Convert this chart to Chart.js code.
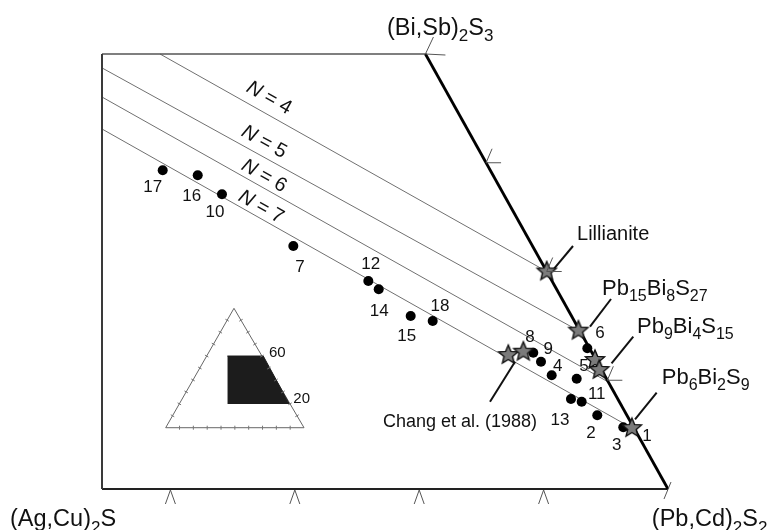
<!DOCTYPE html>
<html><head><meta charset="utf-8">
<script src="https://cdn.jsdelivr.net/npm/chart.js@4.4.1/dist/chart.umd.min.js"></script>
<style>html,body{margin:0;padding:0;background:#fff;}canvas{display:block;}</style>
</head><body>
<canvas id="c" width="780" height="530"></canvas>
<script>
// ---------------- data (diagram coordinates) ----------------
// frame: left edge at x=9, right corner (Pb,Cd)2S2 at x=100, top corner (Bi,Sb)2S3 at x=61
const frameLeftX = 9, frameRightX = 100, topCornerX = 61;
const bottomTicks = [20, 40, 60, 80];
const rightTicks = [0, 25, 50, 75, 100];

// analysed compositions (black dots)
const dotIds = ['17','16','10','7','12','14','15','18','8','9','4','5','6','13','11','2','3'];
const dotX = [18.76,24.39,28.29,39.76,51.82,53.49,58.63,62.17,78.34,79.58,81.30,85.32,87.03,84.40,86.12,88.63,92.81];
const dotY = [73.27,72.11,67.75,55.86,47.82,45.91,39.77,38.62,31.33,29.26,26.14,25.36,32.34,20.69,20.07,16.94,14.18];

// number labels
const numLabels = ['17','16','10','7','12','14','15','18','8','9','4','5','6','13','11','2','3','1'];
const numLabelX = [17.15,23.42,27.17,40.83,52.2,53.58,57.99,63.34,77.81,80.76,82.27,86.49,89.07,82.64,88.54,87.62,91.75,96.62];
const numLabelY = [69.31,67.2,63.52,51.03,51.72,40.76,35.01,42.07,34.87,32.11,28.28,28.11,35.79,15.86,21.84,12.8,10.11,12.18];

// reference phases (stars)
const starX = [80.5, 85.6, 88.26, 88.95, 94.2, 74.32, 76.74];
const starY = [50.0, 36.4, 29.66, 27.36, 14.0, 30.80, 31.56];

// phase labels with leader lines
const phaseNames = ['Lillianite','Pb_{15}Bi_{8}S_{27}','Pb_{9}Bi_{4}S_{15}','Pb_{6}Bi_{2}S_{9}','Chang et al. (1988)'];
const phaseLabelX = [85.37, 89.39, 95.02, 98.99, 66.56];
const phaseLabelY = [58.85, 46.44, 37.70, 25.98, 15.63];
const leaderFromX = [84.73, 90.84, 94.42, 98.18, 71.38];
const leaderFromY = [55.86, 43.68, 35.01, 22.14, 20.07];
const leaderToX   = [81.35, 87.46, 90.92, 94.70, 75.40];
const leaderToY   = [50.11, 37.31, 28.90, 16.02, 29.26];

// homologue lines N = 4..7
const nNames  = ['4','5','6','7'];
const nStartX = [18.33, 9, 9, 9];
const nStartY = [100, 96.8, 90.11, 82.76];
const nEndX   = [80.5, 85.6, 90.4, 94.2];
const nEndY   = [50.0, 36.4, 24.6, 14.0];
const nLabelX = [35.85, 35.05, 35.05, 34.56];
const nLabelY = [89.88, 79.77, 71.95, 64.83];

// corner labels
const cornerNames = ['(Bi,Sb)_{2}S_{3}','(Ag,Cu)_{2}S','(Pb,Cd)_{2}S_{2}'];
const cornerX = [54.82, -5.79, 97.4];
const cornerY = [106.3, -6.67, -6.67];

// inset triangle
const insetTriX = [30.22, 19.24, 41.48, 30.22];
const insetTriY = [41.54, 14.09, 14.09, 41.54];
const insetBoxX = [29.15, 34.93, 39.11];
const insetBoxY = [30.57, 30.57, 19.54];
const insetBoxBase = 19.54;
const insetNames = ['60','20'];
const insetLabelX = [37.18, 41.11];
const insetLabelY = [31.2, 20.62];

// ---------------- helpers ----------------
const FONT = '"Liberation Sans", Arial, Helvetica, sans-serif';
const xy = (xs, ys) => xs.map((v, i) => ({x: v, y: ys[i]}));

function makeStar(r) {
  const c = document.createElement('canvas');
  const s = Math.ceil(2 * r + 4);
  c.width = s; c.height = s;
  const g = c.getContext('2d');
  g.beginPath();
  for (let i = 0; i < 10; i++) {
    const a = -Math.PI / 2 + i * Math.PI / 5;
    const rr = i % 2 ? r * 0.45 : r;
    const X = s / 2 + rr * Math.cos(a), Y = s / 2 + rr * Math.sin(a);
    i ? g.lineTo(X, Y) : g.moveTo(X, Y);
  }
  g.closePath();
  g.fillStyle = '#7b7b7b'; g.fill();
  g.lineWidth = 1.4; g.strokeStyle = '#111'; g.stroke();
  return c;
}
const starImg = makeStar(10);

function lineDs(data, color, width, order, extra) {
  return Object.assign({data, borderColor: color, borderWidth: width, pointRadius: 0,
    showLine: true, fill: false, tension: 0, clip: false, order}, extra || {});
}

const datasets = [];
// frame
datasets.push(lineDs(xy([frameLeftX, frameLeftX], [0, 100]), '#3a3a3a', 2, 6));
datasets.push(lineDs(xy([frameLeftX, topCornerX], [100, 100]), '#555', 1.6, 6));
datasets.push(lineDs(xy([frameLeftX, frameRightX], [0, 0]), '#222', 2, 6));
datasets.push(lineDs(xy([topCornerX, frameRightX], [100, 0]), '#000', 2.8, 5));
// N lines
nNames.forEach((n, i) => datasets.push(lineDs(xy([nStartX[i], nEndX[i]], [nStartY[i], nEndY[i]]), '#707070', 1, 7)));
// leaders
phaseNames.forEach((n, i) => datasets.push(lineDs(xy([leaderFromX[i], leaderToX[i]], [leaderFromY[i], leaderToY[i]]), '#111', 2, 4)));
// inset
datasets.push(lineDs(xy(insetBoxX, insetBoxY), '#1c1c1c', 1, 8, {fill: {value: insetBoxBase}, backgroundColor: '#1c1c1c'}));
datasets.push(lineDs(xy(insetTriX, insetTriY), '#666', 1, 9));
// dots
datasets.push({data: xy(dotX, dotY), showLine: false, pointRadius: 5, pointBackgroundColor: '#000',
  pointBorderWidth: 0, borderColor: '#000', clip: false, order: 2});
// stars
datasets.push({data: xy(starX, starY), showLine: false, pointStyle: starImg, pointRadius: 10,
  clip: false, order: 1});

function drawRich(ctx, str, X, Y, size, subSize, align) {
  const parts = []; const re = /_\{([^}]*)\}/g; let last = 0, m;
  while ((m = re.exec(str))) {
    if (m.index > last) parts.push({t: str.slice(last, m.index), s: false});
    parts.push({t: m[1], s: true}); last = re.lastIndex;
  }
  if (last < str.length) parts.push({t: str.slice(last), s: false});
  const mf = size + 'px ' + FONT, sf = subSize + 'px ' + FONT;
  let w = 0;
  parts.forEach(p => { ctx.font = p.s ? sf : mf; p.w = ctx.measureText(p.t).width; w += p.w; });
  let cx = align === 'center' ? X - w / 2 : X;
  const base = Y + size * 0.36;
  ctx.textAlign = 'left'; ctx.textBaseline = 'alphabetic';
  parts.forEach(p => { ctx.font = p.s ? sf : mf; ctx.fillText(p.t, cx, p.s ? base + size * 0.27 : base); cx += p.w; });
}

const overlay = {
  id: 'overlay',
  afterDatasetsDraw(chart) {
    const {ctx} = chart; const sx = chart.scales.x, sy = chart.scales.y;
    const px = v => sx.getPixelForValue(v), py = v => sy.getPixelForValue(v);
    ctx.save();
    // bottom ticks
    ctx.strokeStyle = '#555'; ctx.lineWidth = 1;
    bottomTicks.forEach(t => {
      const X = px(t), Y = py(0);
      ctx.beginPath(); ctx.moveTo(X - 5, Y + 15); ctx.lineTo(X, Y + 1); ctx.lineTo(X + 5, Y + 15); ctx.stroke();
    });
    // right edge ticks
    rightTicks.forEach(t => {
      const X = px(frameRightX - (frameRightX - topCornerX) * t / 100), Y = py(t);
      ctx.beginPath();
      if (t === 0) { ctx.moveTo(X - 4, Y + 10); ctx.lineTo(X + 3, Y - 7); }
      else if (t === 100) { ctx.moveTo(X, Y); ctx.lineTo(X + 20, Y + 1); ctx.moveTo(X, Y); ctx.lineTo(X + 8, Y - 17); }
      else { ctx.moveTo(X, Y); ctx.lineTo(X + 15, Y); ctx.moveTo(X, Y); ctx.lineTo(X + 6, Y - 14); }
      ctx.stroke();
    });
    // inset ticks
    ctx.strokeStyle = '#777'; ctx.lineWidth = 1;
    for (let e = 0; e < 3; e++) {
      const ax = px(insetTriX[e]), ay = py(insetTriY[e]), bx = px(insetTriX[e + 1]), by = py(insetTriY[e + 1]);
      const len = Math.hypot(bx - ax, by - ay), nx = -(by - ay) / len, ny = (bx - ax) / len;
      for (let k = 1; k < 10; k++) {
        const X = ax + (bx - ax) * k / 10, Y = ay + (by - ay) * k / 10;
        ctx.beginPath(); ctx.moveTo(X - nx * 2, Y - ny * 2); ctx.lineTo(X + nx * 2, Y + ny * 2); ctx.stroke();
      }
    }
    ctx.fillStyle = '#111';
    // number labels
    ctx.font = '17px ' + FONT; ctx.textAlign = 'center'; ctx.textBaseline = 'middle';
    numLabels.forEach((t, i) => ctx.fillText(t, px(numLabelX[i]), py(numLabelY[i])));
    // inset labels
    ctx.font = '15px ' + FONT;
    insetNames.forEach((t, i) => ctx.fillText(t, px(insetLabelX[i]), py(insetLabelY[i])));
    // phase labels
    phaseNames.forEach((t, i) => {
      if (i === 0) drawRich(ctx, t, px(phaseLabelX[i]), py(phaseLabelY[i]), 20, 15, 'left');
      else if (i === 4) drawRich(ctx, t, px(phaseLabelX[i]), py(phaseLabelY[i]), 18, 13, 'center');
      else drawRich(ctx, t, px(phaseLabelX[i]), py(phaseLabelY[i]), 22, 16, 'left');
    });
    // corner labels
    cornerNames.forEach((t, i) => drawRich(ctx, t, px(cornerX[i]), py(cornerY[i]), 23.5, 17, 'left'));
    // N labels
    nNames.forEach((n, i) => {
      const ang = Math.atan2(py(nEndY[i]) - py(nStartY[i]), px(nEndX[i]) - px(nStartX[i]));
      ctx.save();
      ctx.translate(px(nLabelX[i]), py(nLabelY[i])); ctx.rotate(ang);
      const f1 = 'italic 20px ' + FONT, f2 = '20px ' + FONT, rest = ' = ' + n;
      ctx.font = f1; const w1 = ctx.measureText('N').width;
      ctx.font = f2; const w2 = ctx.measureText(rest).width;
      ctx.textAlign = 'left'; ctx.textBaseline = 'middle';
      ctx.font = f1; ctx.fillText('N', -(w1 + w2) / 2, 0);
      ctx.font = f2; ctx.fillText(rest, -(w1 + w2) / 2 + w1, 0);
      ctx.restore();
    });
    ctx.restore();
  }
};

new Chart(document.getElementById('c'), {
  type: 'line',
  data: {datasets},
  options: {
    responsive: false, animation: false, events: [],
    layout: {padding: {left: 102, right: 112, top: 54, bottom: 41}},
    plugins: {legend: {display: false}, tooltip: {enabled: false}},
    scales: {
      x: {type: 'linear', min: frameLeftX, max: frameRightX, display: false},
      y: {type: 'linear', min: 0, max: 100, display: false}
    }
  },
  plugins: [overlay]
});
</script>
</body></html>
